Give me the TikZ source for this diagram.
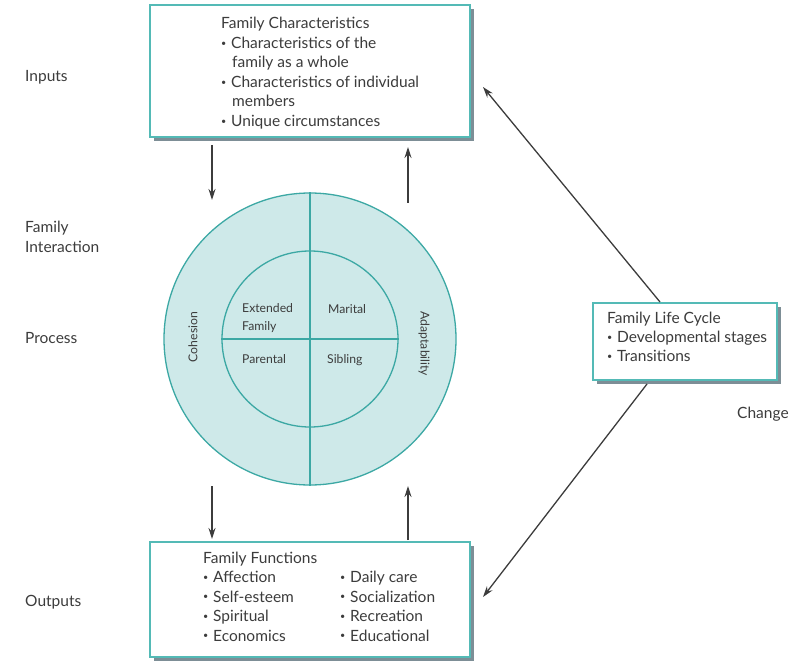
\documentclass[tikz,border=0pt]{standalone}
\usepackage{fontspec}
\setmainfont{Lato}
\usetikzlibrary{arrows.meta}
\definecolor{teal1}{RGB}{84,186,182}
\definecolor{tealfill}{RGB}{206,233,233}
\definecolor{tealline}{RGB}{60,168,164}
\definecolor{shadowc}{RGB}{125,142,150}
\definecolor{txt}{RGB}{60,60,60}
\definecolor{arr}{RGB}{60,60,60}
\newcommand{\bul}{\makebox[10pt][l]{\raisebox{0.3ex}{\fontsize{9}{9}\selectfont •}}}
\newcommand{\bulsp}{\hspace*{11pt}}
\newcommand{\lines}[1]{\begin{tabular}[t]{@{}l@{}}#1\end{tabular}}
\begin{document}
\begin{tikzpicture}[x=1pt,y=-1pt,
  boxshadow/.style={fill=shadowc,draw=none},
  boxmain/.style={fill=white,draw=teal1,line width=2pt},
  lab/.style={text=txt,font=\fontsize{15.5}{19.5}\selectfont,inner sep=0pt},
  clab/.style={text=txt,font=\fontsize{12.2}{17}\selectfont,inner sep=0pt},
  flow/.style={draw=arr,line width=1.3pt,-{Stealth[length=11pt,width=7pt]}}]
\useasboundingbox (0,0) rectangle (798,663);
% top box
\fill[boxshadow] (154,9) rectangle (474,141);
\draw[boxmain] (150,5) rectangle (470,137);
\node (topbox) at (310,71) [minimum width=320pt,minimum height=132pt,inner sep=0pt] {};
\node[lab,anchor=base west] (fc) at (221,29) {\lines{Family Characteristics\\
\bul Characteristics of the\\
\bulsp family as a whole\\
\bul Characteristics of individual\\
\bulsp members\\
\bul Unique circumstances}};
% bottom box
\fill[boxshadow] (154,546) rectangle (474,661);
\draw[boxmain] (150,542) rectangle (470,657);
\node (botbox) at (310,599.5) [minimum width=320pt,minimum height=115pt,inner sep=0pt] {};
\node[lab,anchor=base west] (ff) at (203,563) {\lines{Family Functions\\
\bul Affection\\
\bul Self-esteem\\
\bul Spiritual\\
\bul Economics}};
\node[lab,anchor=base west] (ff2) at (340,582.5) {\lines{\bul Daily care\\
\bul Socialization\\
\bul Recreation\\
\bul Educational}};
% right box
\fill[boxshadow] (597,307) rectangle (781,384);
\draw[boxmain] (593,303) rectangle (777,380);
\node (lcbox) at (685,341.5) [minimum width=184pt,minimum height=77pt,inner sep=0pt] {};
\node[lab,anchor=base west] (flc) at (607,323) {\lines{Family Life Cycle\\
\bul Developmental stages\\
\bul Transitions}};
% circles
\node[circle,draw=tealline,fill=tealfill,line width=1.3pt,minimum size=292pt,inner sep=0pt] (outer) at (310,339) {};
\node[circle,draw=tealline,line width=1.3pt,minimum size=176pt,inner sep=0pt] (inner) at (310,339) {};
\draw[tealline,line width=1.3pt] (outer.north) -- (outer.south);
\draw[tealline,line width=1.3pt] (inner.west) -- (inner.east);
\node[clab,anchor=base west] (ext) at (242,312) {\begin{tabular}[t]{@{}l@{}}Extended\\[1pt]Family\end{tabular}};
\node[clab,anchor=base west] (mar) at (328,313) {Marital};
\node[clab,anchor=base west] (par) at (242,363) {Parental};
\node[clab,anchor=base west] (sib) at (327,363) {Sibling};
\node[clab,rotate=90] (coh) at (193,337) {Cohesion};
\node[clab,rotate=-90] (ada) at (424,344) {Adaptability};
% side labels
\node[lab,anchor=base west] (inp) at (25,82) {Inputs};
\node[lab,anchor=base west] (fi) at (25,233) {\lines{Family\\Interaction}};
\node[lab,anchor=base west] (pro) at (25,343) {Process};
\node[lab,anchor=base west] (out) at (25,606) {Outputs};
\node[lab,anchor=base west] (chg) at (737,418) {Change};
% vertical arrows
\coordinate (a1s) at (212,145); \coordinate (a1e) at (212,200);
\coordinate (a2s) at (408,203); \coordinate (a2e) at (408,147);
\coordinate (a3s) at (212,486); \coordinate (a3e) at (212,539);
\coordinate (a4s) at (408,540); \coordinate (a4e) at (408,486);
\draw[flow] (a1s) -- (a1e);
\draw[flow] (a2s) -- (a2e);
\draw[flow] (a3s) -- (a3e);
\draw[flow] (a4s) -- (a4e);
% diagonal arrows
\coordinate (d1s) at (660,302); \coordinate (d1e) at (483,87);
\coordinate (d2s) at (647,384); \coordinate (d2e) at (483,597);
\draw[flow] (d1s) -- (d1e);
\draw[flow] (d2s) -- (d2e);
\end{tikzpicture}
\end{document}
